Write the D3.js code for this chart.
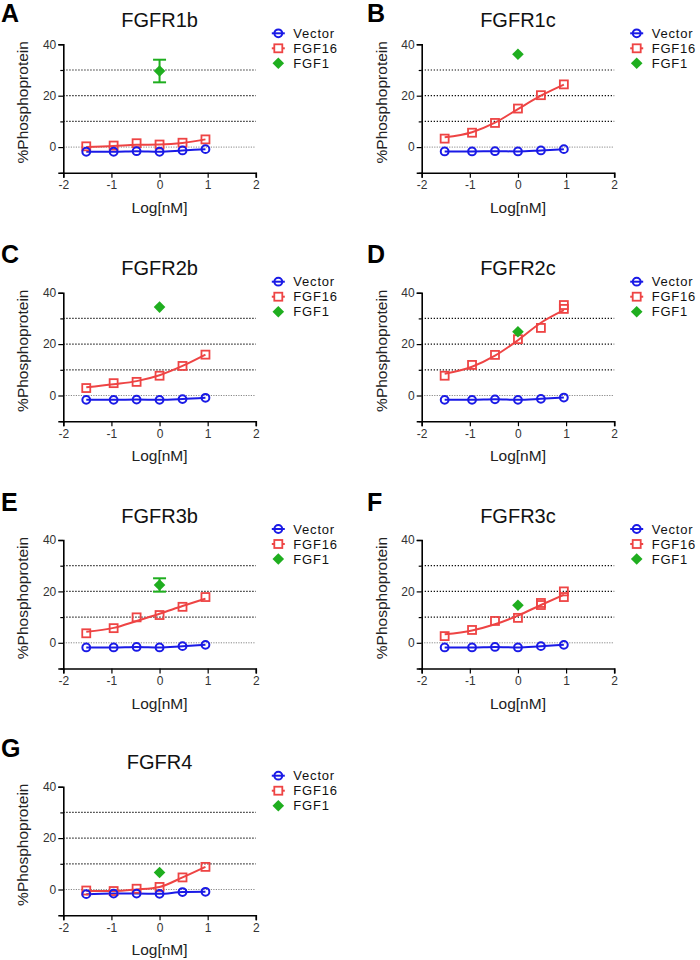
<!DOCTYPE html>
<html><head><meta charset="utf-8">
<script src="https://cdn.jsdelivr.net/npm/d3@7"></script>
<style>
html,body{margin:0;padding:0;background:#fff;}
svg{display:block;font-family:"Liberation Sans",Arial,Helvetica,sans-serif;}
</style></head>
<body><svg id="c" width="700" height="960"></svg>
<script>
// ---- data ----
const logDose = [-1.523, -0.954, -0.477, 0, 0.477, 0.954];
const panelLetters = ["A","B","C","D","E","F","G"];
const panelTitles = ["FGFR1b","FGFR1c","FGFR2b","FGFR2c","FGFR3b","FGFR3c","FGFR4"];
const seriesNames = ["Vector","FGF16","FGF1"];
const xTicks = [-2,-1,0,1,2];
const yTicks = [40,30,20,10,0,-10];
const yTickLabels = [40,20,0];
const gridLevels = [30,20,10];

const vectorA = [-1.8,-1.8,-1.6,-1.8,-1.3,-0.8];
const vectorB = [-1.7,-1.7,-1.6,-1.7,-1.3,-0.8];
const vectorC = [-1.7,-1.7,-1.6,-1.7,-1.4,-0.9];
const vectorD = [-1.7,-1.7,-1.5,-1.7,-1.3,-0.8];
const vectorE = [-1.8,-1.8,-1.6,-1.8,-1.3,-0.8];
const vectorF = [-1.8,-1.8,-1.6,-1.8,-1.3,-0.8];
const vectorG = [-1.8,-1.6,-1.6,-1.7,-1.0,-0.9];

const fgf16A = [0.3,0.6,1.5,1.0,1.7,3.0];
const fgf16B = [3.3,5.6,9.4,15.0,20.2,24.4];
const fgf16C = [2.9,4.8,5.3,7.7,11.5,15.9];
const fgf16D = [7.7,11.9,15.8,21.9,26.3,35.2];
const fgf16E = [3.7,5.7,9.9,10.8,14.0,17.8];
const fgf16F = [2.6,5.0,8.5,9.7,15.5,20.0];
const fgf16G = [-0.4,-0.6,0.3,1.0,4.7,8.8];
// second replicates visible as separate squares (dose index, value)
const fgf16RepD = [[5,33.7]];
const fgf16RepF = [[4,14.7],[5,17.8]];

// fitted FGF16 curves
const fitA = [0.0,0.4,0.9,1.0,1.6,3.0];
const fitB = [3.8,5.8,9.5,14.8,20.0,24.3];
const fitC = [3.2,4.4,5.6,7.9,11.5,15.9];
const fitD = [8.5,11.2,15.5,21.5,28.3,33.2];
const fitE = [4.3,5.8,8.5,11.3,14.3,17.2];
const fitF = [3.3,4.8,7.2,10.6,14.7,18.7];
const fitG = [-0.6,-0.6,0.0,1.0,4.7,8.8];

const fgf1Mean = [29.6,36.1,34.4,24.8,22.5,14.6,6.6];
const fgf1Err  = [4.4,0,0,0,2.6,0,0];

// ---- layout ----
const colAxisX = [63.3, 421.7];
const colLetterX = [1, 367];
const rowTop = [44.3, 292.7, 540, 786.7];
const plotW = 192.5, plotH = 128.5;
const colors = {Vector:"#1a1ae6", FGF16:"#ee4444", FGF1:"#1fae1f"};

const vectors = [vectorA,vectorB,vectorC,vectorD,vectorE,vectorF,vectorG];
const fgf16s = [fgf16A,fgf16B,fgf16C,fgf16D,fgf16E,fgf16F,fgf16G];
const reps = [[],[],[],fgf16RepD,[],fgf16RepF,[]];
const fits = [fitA,fitB,fitC,fitD,fitE,fitF,fitG];

const diamond = "M0,-5.8L5.8,0L0,5.8L-5.8,0Z";
const svg = d3.select("#c");

panelLetters.forEach((L, i) => {
  const col = i % 2, row = Math.floor(i / 2);
  const x0 = colAxisX[col], y0 = rowTop[row];
  const x = d3.scaleLinear().domain([-2,2]).range([x0, x0 + plotW]);
  const y = d3.scaleLinear().domain([-10,40]).range([y0 + plotH, y0]);
  const g = svg.append("g");

  // panel letter
  g.append("text").attr("x", colLetterX[col]).attr("y", row === 0 ? 22 : y0 - 29.5)
    .attr("font-size", 25).attr("font-weight", "bold").attr("fill", "#000").text(L);
  // title
  g.append("text").attr("x", (x(-2) + x(2)) / 2).attr("y", y0 - 17.5)
    .attr("text-anchor", "middle").attr("font-size", 20).attr("fill", "#111").text(panelTitles[i]);

  // grid lines
  g.selectAll("line.grid").data(gridLevels).join("line")
    .attr("x1", x(-2)).attr("x2", x(2)).attr("y1", d => y(d)).attr("y2", d => y(d))
    .attr("stroke", "#111").attr("stroke-width", 1.2).attr("stroke-dasharray", "1.3,1.7");
  g.append("line").attr("x1", x(-2)).attr("x2", x(2)).attr("y1", y(0)).attr("y2", y(0))
    .attr("stroke", "#888").attr("stroke-width", 1).attr("stroke-dasharray", "1.2,1.3");

  // axes
  const yAxis = d3.axisLeft(y).tickValues(yTicks)
    .tickFormat(d => yTickLabels.includes(d) ? String(d) : "").tickSizeOuter(0).tickSize(5).tickPadding(2);
  const ya = g.append("g").attr("transform", `translate(${x0},0)`).call(yAxis);
  ya.select(".domain").attr("stroke", "#000").attr("stroke-width", 1.6);
  ya.selectAll(".tick line").attr("stroke", "#000").attr("stroke-width", 1.2)
    .attr("x2", d => yTickLabels.includes(d) ? -5 : -3);
  ya.selectAll(".tick text").attr("font-size", 12).attr("fill", "#333")
    .attr("font-family", "Liberation Sans, Arial, sans-serif");

  const xAxis = d3.axisBottom(x).tickValues(xTicks).tickFormat(d => String(d))
    .tickSizeOuter(0).tickSize(5).tickPadding(3);
  const xa = g.append("g").attr("transform", `translate(0,${y0 + plotH})`).call(xAxis);
  xa.select(".domain").attr("stroke", "#000").attr("stroke-width", 1.6);
  xa.selectAll(".tick line").attr("stroke", "#000").attr("stroke-width", 1.2);
  xa.selectAll(".tick text").attr("font-size", 12).attr("fill", "#333")
    .attr("font-family", "Liberation Sans, Arial, sans-serif");

  // axis titles
  g.append("text").attr("x", (x(-2) + x(2)) / 2).attr("y", y0 + plotH + 40)
    .attr("text-anchor", "middle").attr("font-size", 15.5).attr("fill", "#222").text("Log[nM]");
  g.append("text").attr("transform", `translate(${x0 - 35},${y0 + 58}) rotate(-90)`)
    .attr("text-anchor", "middle").attr("font-size", 15.5).attr("fill", "#222").text("%Phosphoprotein");

  // lines
  const line = d3.line().x(d => x(d[0])).y(d => y(d[1])).curve(d3.curveMonotoneX);
  g.append("path").attr("d", line(logDose.map((d, k) => [d, vectors[i][k]])))
    .attr("fill", "none").attr("stroke", colors.Vector).attr("stroke-width", 2);
  g.append("path").attr("d", line(logDose.map((d, k) => [d, fits[i][k]])))
    .attr("fill", "none").attr("stroke", colors.FGF16).attr("stroke-width", 2);

  // FGF16 squares
  const sq = logDose.map((d, k) => [d, fgf16s[i][k]]).concat(reps[i].map(r => [logDose[r[0]], r[1]]));
  g.selectAll("rect.s").data(sq).join("rect")
    .attr("x", d => x(d[0]) - 4).attr("y", d => y(d[1]) - 4).attr("width", 8).attr("height", 8)
    .attr("fill", "none").attr("stroke", colors.FGF16).attr("stroke-width", 1.8);
  // Vector circles
  g.selectAll("circle.v").data(logDose.map((d, k) => [d, vectors[i][k]])).join("circle")
    .attr("cx", d => x(d[0])).attr("cy", d => y(d[1])).attr("r", 3.9)
    .attr("fill", "none").attr("stroke", colors.Vector).attr("stroke-width", 2);

  // FGF1
  const fx = x(0), fy = y(fgf1Mean[i]);
  if (fgf1Err[i] > 0) {
    const e = g.append("g").attr("stroke", colors.FGF1).attr("stroke-width", 2);
    e.append("line").attr("x1", fx).attr("x2", fx).attr("y1", y(fgf1Mean[i] - fgf1Err[i])).attr("y2", y(fgf1Mean[i] + fgf1Err[i]));
    [fgf1Mean[i] - fgf1Err[i], fgf1Mean[i] + fgf1Err[i]].forEach(v =>
      e.append("line").attr("x1", fx - 6.5).attr("x2", fx + 6.5).attr("y1", y(v)).attr("y2", y(v)));
  }
  g.append("path").attr("d", diamond)
    .attr("transform", `translate(${fx},${fy})`).attr("fill", colors.FGF1);

  // legend
  const lx = x0 + 215, ly = y0 - 11;
  seriesNames.forEach((s, k) => {
    const yy = ly + k * 15;
    const lg = g.append("g");
    if (s !== "FGF1") {
      lg.append("line").attr("x1", lx - 6.5).attr("x2", lx + 6.5).attr("y1", yy).attr("y2", yy)
        .attr("stroke", colors[s]).attr("stroke-width", 2);
    }
    if (s === "Vector") lg.append("circle").attr("cx", lx).attr("cy", yy).attr("r", 3.9)
      .attr("fill", "none").attr("stroke", colors[s]).attr("stroke-width", 2);
    if (s === "FGF16") lg.append("rect").attr("x", lx - 4).attr("y", yy - 4).attr("width", 8).attr("height", 8)
      .attr("fill", "#fff").attr("stroke", colors[s]).attr("stroke-width", 1.8);
    if (s === "FGF1") lg.append("path").attr("d", diamond)
      .attr("transform", `translate(${lx},${yy})`).attr("fill", colors[s]);
    lg.append("text").attr("x", lx + 15).attr("y", yy + 4.5).attr("font-size", 13)
      .attr("letter-spacing", 0.8).attr("fill", "#111").text(s);
  });
});
</script></body></html>
